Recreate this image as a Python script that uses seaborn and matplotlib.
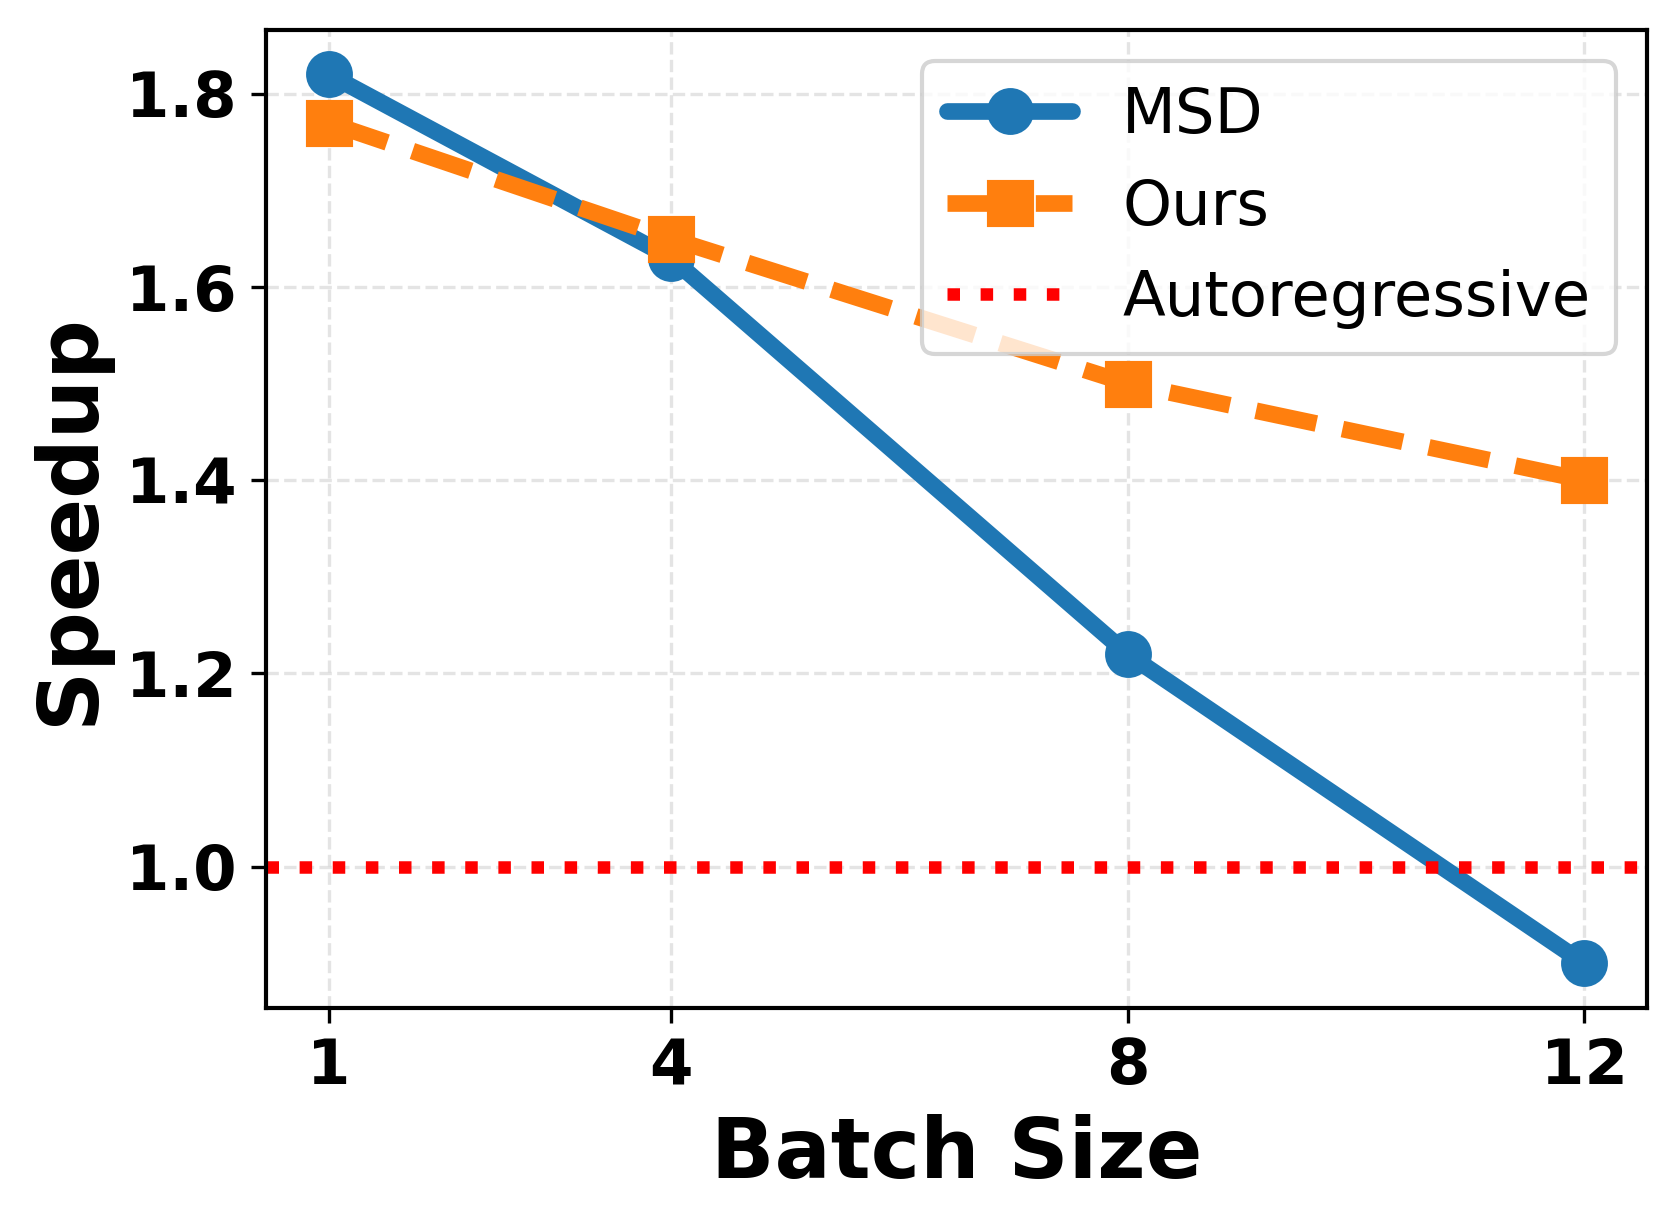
import matplotlib
matplotlib.use("Agg")
import matplotlib.pyplot as plt
import seaborn as sns
import pandas as pd

# data
batch_sizes = [1, 4, 8, 12]
msd_speedup = [1.82, 1.63, 1.22, 0.90]
ours_speedup = [1.77, 1.65, 1.50, 1.40]
autoregressive_speedup = 1.0

sns.set_style("ticks")
plt.rcParams["font.family"] = ["DejaVu Sans"]
plt.rcParams["text.color"] = "black"
plt.rcParams["axes.labelcolor"] = "black"
plt.rcParams["xtick.color"] = "black"
plt.rcParams["ytick.color"] = "black"

df = pd.DataFrame({"Batch Size": batch_sizes, "MSD": msd_speedup, "Ours": ours_speedup})

fig, ax = plt.subplots(figsize=(5.59, 4.087), dpi=300)
fig.subplots_adjust(left=0.1586, right=0.982, top=0.9755, bottom=0.178)

sns.lineplot(data=df, x="Batch Size", y="MSD", ax=ax, color="#1f77b4", linewidth=4,
             marker="o", markersize=10.5, markeredgecolor="#1f77b4", label="MSD")
sns.lineplot(data=df, x="Batch Size", y="Ours", ax=ax, color="#ff7f0e", linewidth=4,
             linestyle="--", marker="s", markersize=10.5, markeredgecolor="#ff7f0e", label="Ours")
ax.axhline(autoregressive_speedup, color="red", linestyle=":", linewidth=3, label="Autoregressive")

ax.set_xticks(batch_sizes)
ax.set_xlabel("Batch Size", fontsize=20, fontweight="bold")
ax.set_ylabel("Speedup", fontsize=20, fontweight="bold")
for lbl in ax.get_xticklabels() + ax.get_yticklabels():
    lbl.set_fontsize(15)
    lbl.set_fontweight("bold")

ax.grid(True, linestyle="--", color="#d9d9d9", linewidth=0.8, alpha=0.7)
for s in ax.spines.values():
    s.set_color("black")
    s.set_linewidth(1)

ax.legend(loc="upper right", fontsize=15)

plt.savefig("out.png", dpi=300)
plt.close()
